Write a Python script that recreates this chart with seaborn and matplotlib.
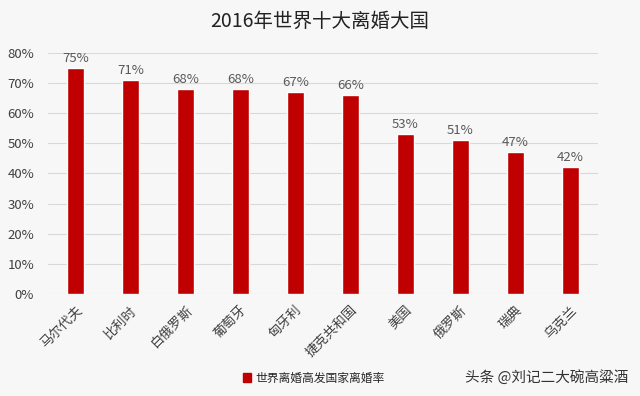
import numpy as np
import pandas as pd
import seaborn as sns
import matplotlib.pyplot as plt
from matplotlib.ticker import PercentFormatter
from matplotlib.patches import Patch

# data
countries = ['马尔代夫', '比利时', '白俄罗斯', '葡萄牙', '匈牙利',
             '捷克共和国', '美国', '俄罗斯', '瑞典', '乌克兰']
rates = [0.75, 0.71, 0.68, 0.68, 0.67, 0.66, 0.53, 0.51, 0.47, 0.42]
series_name = '世界离婚高发国家离婚率'

sns.set_style('white')
plt.rcParams['font.family'] = ['Noto Sans CJK SC', 'DejaVu Sans']

df = pd.DataFrame({'country': countries, 'rate': rates})

fig = plt.figure(figsize=(6.4, 3.96), dpi=100, facecolor='#f7f7f7')
ax = fig.add_axes([0.075, 0.258, 0.859, 0.608])
ax.set_facecolor('#f7f7f7')

red = '#c00000'
sns.barplot(data=df, x='country', y='rate', color=red, width=0.3,
            saturation=1, ax=ax)

for i, v in enumerate(rates):
    ax.text(i, v + 0.012, f'{int(round(v * 100))}%', ha='center', va='bottom',
            fontsize=9.5, color='#595959')

ax.set_ylim(0, 0.8)
ax.set_yticks(np.arange(0, 0.81, 0.1))
ax.yaxis.set_major_formatter(PercentFormatter(1.0, decimals=0))
ax.grid(axis='y', color='#d9d9d9', linewidth=0.8)
ax.set_axisbelow(True)
for s in ax.spines.values():
    s.set_visible(False)
ax.tick_params(axis='both', length=0, labelsize=9.5, colors='#404040')
ax.tick_params(axis='y', pad=10)
ax.tick_params(axis='x', pad=7)
plt.setp(ax.get_xticklabels(), rotation=45, ha='right', rotation_mode='anchor')
ax.set_xlabel('')
ax.set_ylabel('')

fig.text(0.5, 0.945, '2016年世界十大离婚大国', ha='center', va='center',
         fontsize=14, color='#222222')

fig.legend(handles=[Patch(color=red, label=series_name)], loc='center',
           bbox_to_anchor=(0.49, 0.045), frameon=False, fontsize=8.5,
           handlelength=0.7, handleheight=0.7, handletextpad=0.3)

fig.text(0.982, 0.045, '头条 @刘记二大碗高粱酒', ha='right', va='center',
         fontsize=10.5, color='#333333')

fig.savefig('out.png', dpi=100, facecolor=fig.get_facecolor())
